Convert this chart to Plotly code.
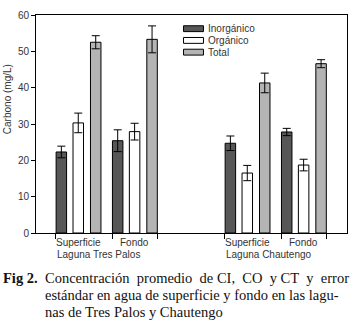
import plotly.graph_objects as go

# ---- data ----
positions = [0, 1, 3, 4]
sites = ["Superficie", "Fondo", "Superficie", "Fondo"]
lagoons = ["Laguna Tres Palos", "Laguna Chautengo"]
series_names = ["Inorgánico", "Orgánico", "Total"]
inorganico = [22.3, 25.4, 24.7, 27.8]
inorganico_err = [1.6, 3.0, 2.0, 1.0]
organico = [30.3, 27.9, 16.5, 18.7]
organico_err = [2.7, 2.3, 2.1, 1.6]
total = [52.5, 53.3, 41.3, 46.6]
total_err = [1.8, 3.7, 2.7, 1.1]
y_ticks = [0, 10, 20, 30, 40, 50, 60]

# ---- style ----
W, H = 357, 327
L, R, T, B = 36, 9, 10, 94
PW, PH = W - L - R, H - T - B
colors = ["#575757", "#ffffff", "#b4b4b4"]
centers = [-0.30, 0.0, 0.31]
bw = 0.186
FONT = "Arial, Liberation Sans, sans-serif"
SERIF = "Times New Roman, Liberation Serif, serif"
TXT = "#333333"

fig = go.Figure()
for name, vals, errs, col, c in zip(series_names, [inorganico, organico, total],
                                      [inorganico_err, organico_err, total_err],
                                      colors, centers):
    fig.add_trace(go.Bar(
        name=name, x=positions, y=vals,
        offset=c - bw / 2, width=bw,
        marker=dict(color=col, line=dict(color="#000000", width=1)),
        error_y=dict(type="data", array=errs, visible=True,
                     color="#000000", thickness=1, width=4),
        showlegend=False,
    ))

fig.update_layout(
    width=W, height=H,
    margin=dict(l=L, r=R, t=T, b=B, pad=0),
    paper_bgcolor="white", plot_bgcolor="white",
    barmode="overlay",
    font=dict(family=FONT, size=10, color=TXT),
    xaxis=dict(range=[-0.75, 4.77], showgrid=False, zeroline=False,
               showline=True, linecolor="black", linewidth=1, mirror=True,
               ticks="outside", ticklen=5, tickcolor="black",
               tickvals=[-0.4, 0.6, 1.4, 2.6, 3.6, 4.4], showticklabels=False),
    yaxis=dict(range=[0, 60], showgrid=False, zeroline=False,
               showline=True, linecolor="black", linewidth=1, mirror=True,
               ticks="outside", ticklen=4, tickcolor="black",
               tickvals=y_ticks, tickfont=dict(size=10, color=TXT)),
)

def px_x(p):
    return (p - L) / PW

def px_y(p):
    return (T + PH - p) / PH

# y-axis title
fig.add_annotation(text="Carbono (mg/L)", xref="paper", yref="paper",
                   x=px_x(7), y=px_y(96), textangle=-90, showarrow=False,
                   font=dict(size=10, color=TXT), xanchor="center", yanchor="middle")

# x category labels
for pos, s in zip(positions, sites):
    fig.add_annotation(text=s, xref="x", yref="paper", x=pos, y=px_y(243),
                       showarrow=False, xanchor="center", yanchor="middle",
                       font=dict(size=10, color=TXT))
for pos, lg in zip([-0.4, 2.6], lagoons):
    fig.add_annotation(text=lg, xref="x", yref="paper", x=pos, y=px_y(254.5),
                       showarrow=False, xanchor="left", yanchor="middle", xshift=-1,
                       font=dict(size=10, color=TXT))

# custom legend
rows = [24, 36, 48]
for name, col, r in zip(series_names, colors, rows):
    fig.add_shape(type="rect", xref="paper", yref="paper",
                  x0=px_x(184), x1=px_x(204), y0=px_y(r + 3), y1=px_y(r - 3),
                  fillcolor=col, line=dict(color="black", width=1))
    fig.add_annotation(text=name, xref="paper", yref="paper", x=px_x(208), y=px_y(r),
                       showarrow=False, xanchor="left", yanchor="middle", borderpad=0,
                       font=dict(size=10, color=TXT))

# caption
fig.add_annotation(text="<b>Fig 2.</b>", xref="paper", yref="paper",
                   x=px_x(1), y=px_y(279), showarrow=False, xanchor="left",
                   yanchor="middle", font=dict(family=SERIF, size=14.5, color="#111111"))
cap_lines = ["Concentración&nbsp; promedio&nbsp; de CI,&nbsp; CO&nbsp; y CT&nbsp; y&nbsp; error",
             "estándar en agua de superficie y fondo en las lagu-",
             "nas de Tres Palos y Chautengo"]
for line, yy in zip(cap_lines, [279, 296.5, 313.5]):
    fig.add_annotation(text=line, xref="paper", yref="paper",
                       x=px_x(43), y=px_y(yy), showarrow=False, xanchor="left",
                       yanchor="middle", font=dict(family=SERIF, size=14.5, color="#111111"))

fig.write_html("out.html", config={"displayModeBar": False},
               post_script="document.body.style.margin='0px';")
